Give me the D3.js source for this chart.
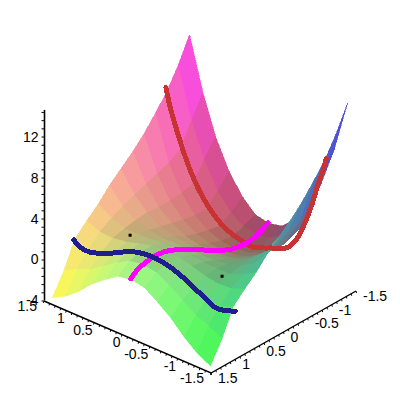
<!DOCTYPE html>
<html><head><meta charset="utf-8">
<style>html,body{margin:0;padding:0;background:#fff}svg{display:block}text{font-family:"Liberation Sans",Arial,sans-serif;font-size:14px;fill:#000}</style>
<script src="https://cdn.jsdelivr.net/npm/d3@7"></script></head><body>
<svg id="c" width="400" height="400"></svg>
<script>
// surface grid
const uGrid=[-1.42,-1.18,-0.95,-0.71,-0.47,-0.24,0,0.24,0.47,0.71,0.95,1.18,1.42];
const vGrid=[-1.42,-1.18,-0.95,-0.71,-0.47,-0.24,0,0.24,0.47,0.71,0.95,1.18,1.42];
// z heights for u>=0 (0,.24,.47,.71,.95,1.18,1.42); the picture is mirror-like about u=0
const zHalf=[
[-0.7,-0.4,0.8,2.7,5.5,9.3,14.4],
[-1.2,-0.9,-0.1,1.4,3.9,7.2,12],
[-1.5,-1.3,-0.8,0.3,2.2,5,10.1],
[-1.25,-1.1,-0.6,0.3,1.9,4.3,8.6],
[-0.85,-0.7,-0.3,0.5,1.8,3.9,7.2],
[-0.3,-0.2,0.1,0.8,1.8,3.5,6.1],
[0.5,0.55,0.7,1.1,1.9,3.1,5.1],
[1.2,1.2,1.2,1.4,1.8,2.6,4.1],
[1.85,1.8,1.65,1.6,1.6,2.1,2.9],
[2.25,2.2,1.9,1.5,1.3,1.4,1.9],
[2.4,2.3,1.75,1.05,0.5,0.3,0.8],
[2.2,2,1.3,0.4,-0.5,-1,-1.7],
[1.4,1.15,0.3,-0.7,-2,-3,-3.7]];
// curves
const redU=[1.48,1.41,1.28,1.1,0.92,0.69,0.42,0.1,-0.08,-0.42,-0.7,-0.875,-1.02,-1.14,-1.25,-1.34,-1.4];
const redZ=[10.2,8.6,6.4,3.84,1.9,0.2,-1,-1.6,-1.7,-1,-0.3,1,2.9,4.9,7.1,8.7,10];
const blueU=[1.4,1.29,1.11,0.8,0.34,0.085,-0.1,-0.33,-0.56,-0.87,-1.17,-1.5];
const blueZ=[0.87,0.43,0.35,0.96,2.2,2.5,2.5,2.27,1.8,0.95,0.2,0.7];
const magV=[1.43,1.3,1.1,0.89,0.62,0,-0.35,-0.68,-0.97,-1.18,-1.41];
const magZ=[1.5,2,2.3,2.4,2.1,0.5,-0.5,-1.2,-1.4,-1.2,-0.6];
const dotU=[0.7,-0.7],dotV=[0.64,0.35],dotZ=[2,0.5];
// ticks
const zMajor=[-4,0,4,8,12];
const zTicks=[-4,-3.2,-2.4,-1.6,-0.8,0,0.8,1.6,2.4,3.2,4,4.8,5.6,6.4,7.2,8,8.8,9.6,10.4,11.2,12,12.8,13.6,14.4];
const uvLabels=[-1.5,-1,-0.5,0,0.5,1,1.5];
const uvMinor=[-1.4,-1.3,-1.2,-1.1,-0.9,-0.8,-0.7,-0.6,-0.4,-0.3,-0.2,-0.1,0.1,0.2,0.3,0.4,0.6,0.7,0.8,0.9,1.1,1.2,1.3,1.4];

const uX=d3.scaleLinear([-1.5,1.5],[83.5,-83.5]), uY=d3.scaleLinear([-1.5,1.5],[36,-36]);
const vX=d3.scaleLinear([-1.5,1.5],[72.5,-72.5]), vY=d3.scaleLinear([-1.5,1.5],[-41,41]);
const zS=d3.scaleLinear([-4,14.6],[0,-190.6]);
const cx=200, cy=296;
const px=(u,v)=>cx+uX(u)+vX(v);
const py=(u,v,z)=>cy+uY(u)+vY(v)+zS(z);
const zAt=(i,j)=>{const k=Math.abs(i-6);return zHalf[j][k];};
const rS=d3.scaleLinear([-1.42,1.42],[0.28,1]);
const gS=d3.scaleLinear([-1.42,1.42],[0.28,1]);
const bS=d3.scaleLinear([-4,14.4],[0.3,1]);
const svg=d3.select("#c");
const cells=[];
for(let i=0;i<uGrid.length-1;i++)for(let j=0;j<vGrid.length-1;j++){
  const u0=uGrid[i],u1=uGrid[i+1],v0=vGrid[j],v1=vGrid[j+1];
  const z00=zAt(i,j),z10=zAt(i+1,j),z11=zAt(i+1,j+1),z01=zAt(i,j+1);
  const zu=((z10+z11)-(z00+z01))/(2*(u1-u0)),zv=((z01+z11)-(z00+z10))/(2*(v1-v0));
  const nz=1/Math.sqrt(1+(zu*zu+zv*zv)/9);
  const s=Math.min(1,0.9+0.1*(1-nz)*2.5);
  const um=(u0+u1)/2,vm=(v0+v1)/2,zm=(z00+z10+z11+z01)/4;
  const col=d3.rgb(255*rS(um)*s,255*gS(vm)*s,255*bS(zm)*s);
  cells.push({depth:23.33*um-27.33*vm,col,pts:[[u0,v0,z00],[u1,v0,z10],[u1,v1,z11],[u0,v1,z01]]});
}
cells.sort((a,b)=>b.depth-a.depth);
svg.append("g").attr("shape-rendering","crispEdges").selectAll("path").data(cells).join("path")
 .attr("d",d=>"M"+d.pts.map(p=>px(p[0],p[1])+","+py(p[0],p[1],p[2])).join("L")+"Z")
 .attr("fill",d=>d.col).attr("stroke",d=>d.col).attr("stroke-width",0.6);

// z axis
const zAxis=d3.axisLeft(zS).tickValues(zTicks).tickSize(3).tickFormat(d=>zMajor.includes(d)?d3.format("d")(d).replace("−","-"):"");
const zg=svg.append("g").attr("transform","translate(44.5,300.5)").call(zAxis);
zg.selectAll("path.domain").attr("stroke","#000").attr("stroke-width",1.6).attr("d","M0,"+zS(-4)+"V"+zS(14.6));
zg.selectAll("line").attr("stroke","#000");
zg.selectAll("text").attr("x",-6).attr("font-size",14).style("font-family",'"Liberation Sans",Arial,sans-serif');
// base axes
const lineG=svg.append("g").attr("stroke","#000").attr("fill","none");
const ax=(u,v)=>[px(u,v),py(u,v,-4)];
lineG.append("path").attr("stroke-width",1.4).attr("d",d3.line()([ax(1.5,1.5),ax(-1.5,1.5),ax(-1.5,-1.5)]));
lineG.selectAll("path.tu").data(uvMinor.concat(uvLabels)).join("path").attr("class","tu")
 .attr("d",d=>{const a=ax(d,1.5);return d3.line()([a,[a[0]-0.5,a[1]+2]]);});
lineG.selectAll("path.tv").data(uvMinor.concat(uvLabels)).join("path").attr("class","tv")
 .attr("d",d=>{const a=ax(-1.5,d);return d3.line()([a,[a[0]+0.5,a[1]+2]]);});
svg.append("g").selectAll("text").data(uvLabels).join("text").attr("text-anchor","end")
 .attr("x",d=>ax(d,1.5)[0]-7).attr("y",d=>ax(d,1.5)[1]+10).text(d=>String(d));
svg.append("g").selectAll("text").data(uvLabels).join("text").attr("text-anchor","start")
 .attr("x",d=>ax(-1.5,d)[0]+7).attr("y",d=>ax(-1.5,d)[1]+10).text(d=>String(d));

// curves
const lineFn=d3.line().curve(d3.curveCatmullRom);
function curve(pts,c){svg.append("path").attr("d",lineFn(pts)).attr("fill","none").attr("stroke",c).attr("stroke-width",5).attr("stroke-linecap","round").attr("shape-rendering","crispEdges");}
curve(redU.map((u,i)=>[px(u,-1),py(u,-1,redZ[i])]),"#c83232");
curve(magV.map((v,i)=>[px(0,v),py(0,v,magZ[i])]),"#ff00ff");
curve(blueU.map((u,i)=>[px(u,1),py(u,1,blueZ[i])]),"#1f1f8c");
svg.append("g").selectAll("rect").data(dotU).join("rect").attr("width",3).attr("height",3)
 .attr("x",(d,i)=>px(d,dotV[i])-1.5).attr("y",(d,i)=>py(d,dotV[i],dotZ[i])-1.5).attr("fill","#000");
</script></body></html>
